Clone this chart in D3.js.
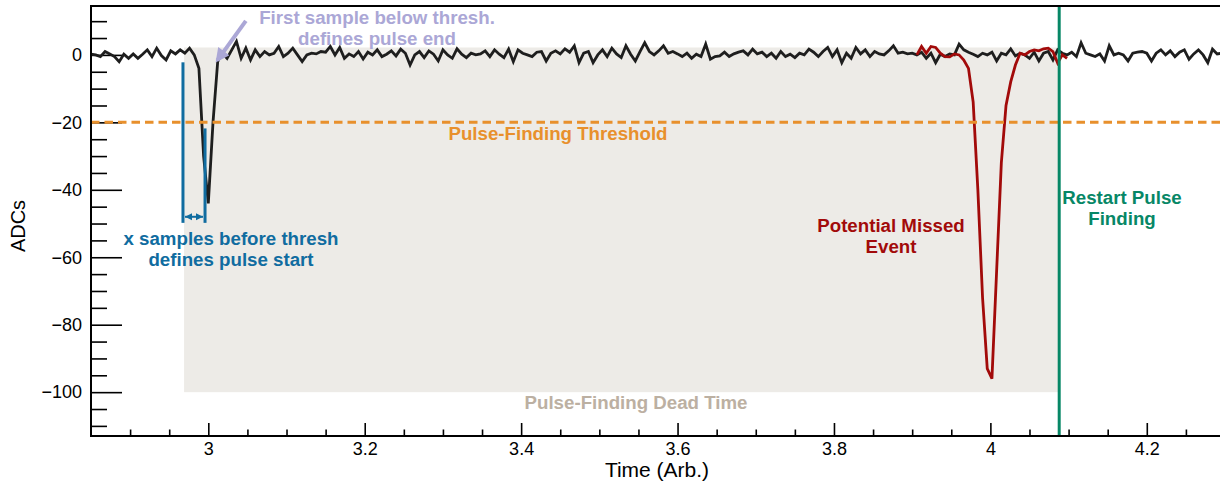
<!DOCTYPE html>
<html lang="en">
  <head>
    <meta charset="UTF-8" />
    <title>Pulse-Finding Dead Time</title>
    <script src="https://d3js.org/d3.v7.min.js"></script>
    <style>
      body {
        margin: 0;
        background: #ffffff;
      }
      svg text {
        font-family: "Liberation Sans", Arial, Helvetica, sans-serif;
      }
      .tick text {
        font-size: 18px;
        fill: #000;
      }
      .note {
        font-size: 18.7px;
        font-weight: bold;
      }
    </style>
  </head>
  <body>
    <div class="chart"></div>
  </body>

  <script>
    // sample clock of the digitiser trace
    var T0 = 2.85;
    var DT = 0.006;

    // baseline trace (ADC counts per sample), incl. first pulse at t~3.0
    var traceValues = [
      0.2, 0.0, -0.5, 1.0, 0.3, -0.5, -2.0, 0.2, -1.0, 0.3,
      -1.0, 0.2, 1.5, -0.5, 2.0, -0.2, -1.5, 1.2, 0.3, 1.5,
      0.5, 2.0, 0.0, -4.0, -30, -44, -20, -2.0, 0.5, -1.0,
      1.5, 4.0, -1.0, 2.0, -1.5, 1.5, -0.5, 1.0, 0.0, 0.5,
      2.5, -0.5, 0.5, 2.0, 0.0, -2.0, 0.0, 0.5, 0.3, 1.0,
      0.8, 2.5, 0.0, 2.2, -1.0, 0.3, -0.5, 1.0, -1.2, 0.8,
      0.0, 1.5, -0.5, 0.2, 1.2, -0.3, 1.7, 0.5, -3.0, 0.0,
      1.0, -0.8, 1.2, 0.2, -1.8, 1.5, 0.0, -1.0, 1.8, 0.2,
      -0.8, 0.5, 0.0, 0.3, 1.2, -0.5, 1.5, 0.2, -0.8, 1.7,
      -2.0, 1.5, 0.5, 0.0, -0.5, 0.8, 1.0, -1.8, 0.5, 1.2,
      0.3, 1.8, 0.8, 2.7, -2.3, 0.5, 1.0, -2.3, 0.0, 1.5,
      -0.5, 2.0, 0.3, -0.8, 2.7, 0.2, -1.8, 1.0, 3.6, 1.0,
      0.0, 1.2, 2.7, 0.5, 1.0, 0.3, -0.5, 0.5, -1.0, 0.2,
      -0.5, 3.2, -1.3, -0.5, -0.3, 0.8, -0.5, 0.3, 0.8, 1.2,
      0.0, 1.7, 0.3, 0.8, -0.5, 0.5, -1.0, 1.0, -0.5, 0.2,
      -0.8, 0.5, 0.0, 1.7, 0.8, -0.5, 1.0, 2.2, -0.5, 1.5,
      -2.3, 0.5, -1.0, 2.2, 0.3, 1.5, -0.5, 1.0, 0.3, 0.0,
      1.2, 2.7, 0.5, 0.8, 0.3, 0.5, 0.0, 0.8, -1.0, 0.5,
      -2.3, 0.2, -0.5, 0.3, 0.0, 3.2, 1.5, 0.8, 0.2, -0.5,
      0.5, 0.0, 0.8, -1.8, 0.5, 0.0, 1.8, -0.3, 0.5, 0.0,
      -1.0, 0.8, -1.8, 0.5, 1.0, -1.5, 1.5, 0.5, 0.0, 0.8,
      -0.5, 3.6, 0.5, 0.0, -0.5, 0.3, -1.8, 2.7, 0.0, 0.5,
      0.0, -1.8, 0.5, 0.8, 1.0, 0.5, -1.8, 0.5, 1.5, 0.0,
      1.2, -0.5, 0.8, 1.5, -1.3, 0.3, 1.5, 0.0, -2.3, 1.7,
      0.3, 0.5, 0.3
    ];

    // overlaid second pulse (the one that would be missed), starts at sample 176
    var missedStart = 176;
    var missedValues = [
      0.0, 2.5, 0.5, 2.5, 2.2, 0.5, -0.5, -0.6, 0.3, 0.0,
      -1.5, -4, -14, -40, -72, -93, -96, -64, -32, -15,
      -8, -3, 0.5, 0.0, 1.0, 1.5, 1.2, 1.8, 2.0, 1.0,
      -2.4, 0.0, -1.0
    ];

    var threshold = -20;
    var deadStart = 2.969;
    var deadEnd = 4.088;
    var deadTop = 2.2;
    var deadBottom = -100;
    var preStart = 2.9676; // x samples before threshold
    var threshCross = 2.9958;

    var xMajor = [3, 3.2, 3.4, 3.6, 3.8, 4, 4.2];
    var yMajor = [-100, -80, -60, -40, -20, 0];

    var W = 1220, H = 482;
    var svg = d3
      .select(".chart")
      .append("svg")
      .attr("width", W)
      .attr("height", H);

    var x = d3.scaleLinear().domain([2.85, 4.3]).range([91, 1225]);
    var y = d3.scaleLinear().domain([-113, 14.5]).range([436, 6]);

    var clip = svg.append("clipPath").attr("id", "plot-clip");
    clip.append("rect").attr("x", 91).attr("y", 6).attr("width", 1134).attr("height", 430);

    var defs = svg.append("defs");
    defs
      .append("marker")
      .attr("id", "lav-head")
      .attr("markerUnits", "userSpaceOnUse")
      .attr("viewBox", "0 0 10 10")
      .attr("refX", 8)
      .attr("refY", 5)
      .attr("markerWidth", 15)
      .attr("markerHeight", 14)
      .attr("orient", "auto")
      .append("path")
      .attr("d", "M0,0 L10,5 L0,10 Z")
      .attr("fill", "#aba7d6");
    defs
      .append("marker")
      .attr("id", "blue-head")
      .attr("markerUnits", "userSpaceOnUse")
      .attr("viewBox", "0 0 10 10")
      .attr("refX", 10)
      .attr("refY", 5)
      .attr("markerWidth", 7)
      .attr("markerHeight", 8)
      .attr("orient", "auto-start-reverse")
      .append("path")
      .attr("d", "M0,0 L10,5 L0,10 Z")
      .attr("fill", "#106ca0");

    // axes first, so the threshold dashes sit on top of the ticks
    var yMinor = d3.range(-110, 11, 5).filter(function (v) {
      return v % 20 !== 0;
    });
    var xMinor = d3.range(2.9, 4.3, 0.05).filter(function (v) {
      return Math.abs(v * 5 - Math.round(v * 5)) > 1e-6;
    });

    function styleAxis(g) {
      g.select(".domain").remove();
      g.selectAll(".tick line").attr("stroke", "#000").attr("stroke-width", 1.6);
    }

    svg
      .append("g")
      .attr("transform", "translate(91,0)")
      .call(d3.axisLeft(y).tickValues(yMinor).tickSize(-16).tickFormat(""))
      .call(styleAxis);
    svg
      .append("g")
      .attr("transform", "translate(91,0)")
      .call(
        d3
          .axisLeft(y)
          .tickValues(yMajor)
          .tickSize(-31)
          .tickPadding(9)
          .tickFormat(function (d) {
            return d < 0 ? "\u2212" + Math.abs(d) : d;
          })
      )
      .call(styleAxis);

    svg
      .append("g")
      .attr("transform", "translate(0,436)")
      .call(d3.axisBottom(x).tickValues(xMinor).tickSize(-6.5).tickFormat(""))
      .call(styleAxis);
    svg
      .append("g")
      .attr("transform", "translate(0,436)")
      .call(d3.axisBottom(x).tickValues(xMajor).tickSize(-13).tickPadding(6).tickFormat(d3.format("")))
      .call(styleAxis);

    var plot = svg.append("g").attr("clip-path", "url(#plot-clip)");

    // dead-time shading
    plot
      .append("rect")
      .attr("x", x(deadStart))
      .attr("y", y(deadTop))
      .attr("width", x(deadEnd) - x(deadStart))
      .attr("height", y(deadBottom) - y(deadTop))
      .attr("fill", "#edebe7");

    var line = d3
      .line()
      .x(function (d) {
        return x(d.t);
      })
      .y(function (d) {
        return y(d.v);
      });

    var trace = traceValues.map(function (v, i) {
      return { t: T0 + i * DT, v: v };
    });
    var missed = missedValues.map(function (v, i) {
      return { t: T0 + (missedStart + i) * DT, v: v };
    });

    plot
      .append("path")
      .datum(trace)
      .attr("d", line)
      .attr("fill", "none")
      .attr("stroke", "#1e1e1e")
      .attr("stroke-width", 2.8);

    plot
      .append("path")
      .datum(missed)
      .attr("d", line)
      .attr("fill", "none")
      .attr("stroke", "#a20a0a")
      .attr("stroke-width", 2.8);

    // threshold
    plot
      .append("line")
      .attr("x1", 91)
      .attr("x2", 1225)
      .attr("y1", y(threshold))
      .attr("y2", y(threshold))
      .attr("stroke", "#e8902c")
      .attr("stroke-width", 3)
      .attr("stroke-dasharray", "8.5,5");

    // pulse start markers
    plot
      .append("line")
      .attr("x1", x(preStart))
      .attr("x2", x(preStart))
      .attr("y1", y(-2.2))
      .attr("y2", y(-49.8))
      .attr("stroke", "#106ca0")
      .attr("stroke-width", 3);
    plot
      .append("line")
      .attr("x1", x(threshCross))
      .attr("x2", x(threshCross))
      .attr("y1", y(-21.8))
      .attr("y2", y(-49.8))
      .attr("stroke", "#106ca0")
      .attr("stroke-width", 3);
    plot
      .append("line")
      .attr("x1", x(preStart) + 2)
      .attr("x2", x(threshCross) - 2)
      .attr("y1", y(-48))
      .attr("y2", y(-48))
      .attr("stroke", "#106ca0")
      .attr("stroke-width", 2)
      .attr("marker-start", "url(#blue-head)")
      .attr("marker-end", "url(#blue-head)");

    // restart line
    plot
      .append("line")
      .attr("x1", x(deadEnd))
      .attr("x2", x(deadEnd))
      .attr("y1", 6)
      .attr("y2", 436)
      .attr("stroke", "#078766")
      .attr("stroke-width", 3);

    // pulse-end arrow
    svg
      .append("line")
      .attr("x1", x(3.048))
      .attr("y1", y(10.1))
      .attr("x2", x(3.0115))
      .attr("y2", y(-1.6))
      .attr("stroke", "#aba7d6")
      .attr("stroke-width", 4)
      .attr("marker-end", "url(#lav-head)");

    // frame
    svg
      .append("rect")
      .attr("x", 91)
      .attr("y", 6)
      .attr("width", 1134)
      .attr("height", 430)
      .attr("fill", "none")
      .attr("stroke", "#000")
      .attr("stroke-width", 2);

    // axis titles
    svg
      .append("text")
      .attr("x", 657)
      .attr("y", 477)
      .attr("text-anchor", "middle")
      .style("font-size", "21px")
      .text("Time (Arb.)");
    svg
      .append("text")
      .attr("transform", "translate(25,226) rotate(-90)")
      .attr("text-anchor", "middle")
      .style("font-size", "20px")
      .text("ADCs");

    // annotations
    function note(lines, cx, baseY, color) {
      var t = svg
        .append("text")
        .attr("class", "note")
        .attr("text-anchor", "middle")
        .attr("fill", color);
      lines.forEach(function (s, i) {
        t.append("tspan")
          .attr("x", cx)
          .attr("y", baseY + i * 20.5)
          .text(s);
      });
    }

    note(["First sample below thresh.", "defines pulse end"], 377, 24, "#aba7d6");
    note(["Pulse-Finding Threshold"], 558, 140, "#e8902c");
    note(["x samples before thresh", "defines pulse start"], 231, 245, "#106ca0");
    note(["Potential Missed", "Event"], 891, 232, "#a20a0a");
    note(["Restart Pulse", "Finding"], 1122, 204, "#078766");
    note(["Pulse-Finding Dead Time"], 636, 409, "#bcb0a2");
  </script>
</html>
